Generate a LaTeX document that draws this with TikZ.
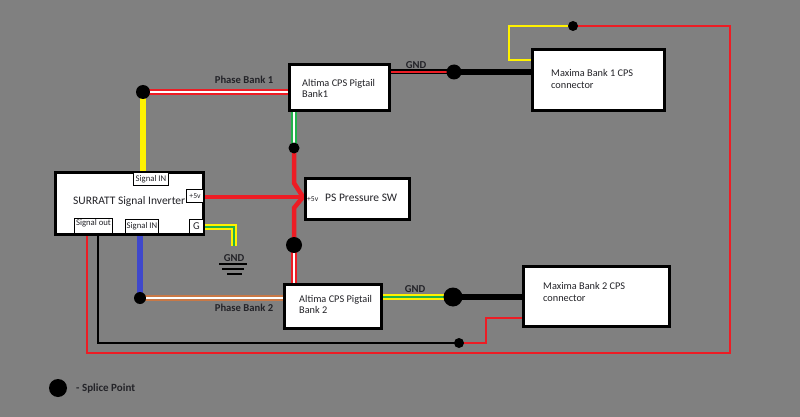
\documentclass[tikz,border=0pt]{standalone}
\usepackage{fontspec}
\setmainfont{Carlito}
\pgfdeclarelayer{canvas}
\pgfdeclarelayer{wires}
\pgfsetlayers{canvas,wires,main}
\definecolor{wred}{RGB}{237,28,36}
\definecolor{wyel}{RGB}{255,242,0}
\definecolor{wgrn}{RGB}{34,177,76}
\definecolor{wblu}{RGB}{63,72,204}
\definecolor{worg}{RGB}{200,120,70}
\definecolor{inkc}{RGB}{35,35,40}
\definecolor{canvasgray}{RGB}{128,128,128}
\tikzset{
  mainbox/.style={draw=black,fill=white,line width=3pt,inner sep=0pt},
  tagbox/.style={draw=black,fill=white,line width=0.8pt,inner sep=0pt,font=\fontsize{8.7}{9}\selectfont,text=inkc},
  boxtext/.style={anchor=west,inner sep=0pt,align=left,font=\fontsize{10.3}{11.7}\selectfont,text=inkc},
  lbl/.style={inner sep=0pt,font=\fontsize{10.6}{11}\bfseries\selectfont,text=inkc},
  splice/.style={circle,fill=black,inner sep=0pt},
  wire/.style={line cap=butt,line join=miter},
  redwhite/.style={wire,preaction={draw=wred,line width=6pt},draw=white,line width=2.4pt},
  orgwhite/.style={wire,preaction={draw=worg,line width=5.6pt},draw=white,line width=2.8pt},
  grnwhite/.style={wire,preaction={draw=wgrn,line width=6pt},draw=white,line width=2.2pt},
  yelgrn/.style={wire,preaction={draw=wyel,line width=5.8pt},draw=wgrn,line width=2.8pt},
  blkred/.style={wire,preaction={draw=black,line width=5pt},draw=wred,line width=2pt},
}
\begin{document}
\begin{tikzpicture}[x=1pt,y=-1pt]
\begin{pgfonlayer}{canvas}
\fill[canvasgray] (0,0) rectangle (800,417);
\end{pgfonlayer}
\useasboundingbox (0,0) rectangle (800,417);
% main boxes
\node[mainbox,minimum width=148pt,minimum height=62pt] (surratt) at (129.5,203.5) {};
\node[mainbox,minimum width=100pt,minimum height=46pt] (alta) at (339.5,87.5) {};
\node[mainbox,minimum width=97pt,minimum height=44pt] (altb) at (333,306.5) {};
\node[mainbox,minimum width=104pt,minimum height=41pt] (ps) at (357.5,199) {};
\node[mainbox,minimum width=132pt,minimum height=61pt] (maxa) at (598.5,80) {};
\node[mainbox,minimum width=146pt,minimum height=60pt] (maxb) at (596.5,296.5) {};
% box texts
\node[boxtext,font=\fontsize{11.5}{12}\selectfont] (tsurratt) at (73,201) {SURRATT Signal Inverter};
\node[boxtext] (talta) at (302,88.5) {Altima CPS Pigtail\\Bank1};
\node[boxtext] (taltb) at (299,304.5) {Altima CPS Pigtail\\Bank 2};
\node[boxtext,font=\fontsize{11.5}{12}\selectfont] (tps) at (325,198) {PS Pressure SW};
\node[boxtext] (tmaxa) at (551,79) {Maxima Bank 1 CPS\\connector};
\node[boxtext] (tmaxb) at (543,292) {Maxima Bank 2 CPS\\connector};
\node[inner sep=0pt,anchor=west,font=\fontsize{7.6}{8}\selectfont,text=inkc] (tfive) at (307,199.5) {+5v};
% tag boxes
\node[tagbox,minimum width=35pt,minimum height=13pt] (sigina) at (151,179) {Signal IN};
\node[tagbox,minimum width=17pt,minimum height=13pt,font=\fontsize{7.6}{8}\selectfont] (fivev) at (195,196) {+5v};
\node[tagbox,minimum width=38pt,minimum height=15pt,text depth=7pt,text height=6pt] (sigout) at (93.5,226) {Signal out};
\node[tagbox,minimum width=33pt,minimum height=14pt] (siginb) at (142,226.5) {Signal IN};
\node[tagbox,minimum width=14pt,minimum height=14pt,font=\fontsize{10.5}{11}\selectfont] (gnode) at (196.5,226.5) {G};
% splice points
\node[splice,minimum size=14pt] (dpa) at (143,92) {};
\node[splice,minimum size=12pt] (dpb) at (140,298) {};
\node[splice,minimum size=11pt] (dsa) at (294,148) {};
\node[splice,minimum size=16pt] (dsb) at (294,245) {};
\node[splice,minimum size=15pt] (dga) at (454,72) {};
\node[splice,minimum size=19pt] (dgb) at (453,297) {};
\node[splice,minimum size=10pt] (dma) at (573,26) {};
\node[splice,minimum size=10pt] (dmb) at (459,343) {};
\node[splice,minimum size=18pt] (dleg) at (58,388) {};
% labels
\node[lbl] (lpa) at (244,80) {Phase Bank 1};
\node[lbl] (lpb) at (244,308) {Phase Bank 2};
\node[lbl] (lga) at (416,65) {GND};
\node[lbl] (lgb) at (415,289) {GND};
\node[lbl] (lgnd) at (234,258) {GND};
\node[lbl,anchor=west,font=\fontsize{11}{12}\bfseries\selectfont] (lleg) at (76,389) {- Splice Point};
% free corners
\coordinate (gcorner) at (234,227);
\coordinate (gend) at (234,246);
\coordinate (kneeu) at (294,183);
\coordinate (tip) at (303,197);
\coordinate (kneel) at (294,208);
\coordinate (ra) at (87,353);
\coordinate (rb) at (730,353);
\coordinate (rc) at (730,26);
\coordinate (ya) at (509,26);
\coordinate (yb) at (509,60);
\coordinate (ka) at (98,343);
\coordinate (sa) at (486,318);
\coordinate (sb) at (486,343);
\begin{pgfonlayer}{wires}
\draw[wire,draw=wyel,line width=6pt] (dpa.center) -- (dpa.center |- surratt.north);
\draw[wire,draw=wblu,line width=5.5pt] (dpb.center) -- (dpb.center |- surratt.south);
\draw[redwhite] (dpa.center) -- (dpa.center -| alta.west);
\draw[orgwhite] (dpb.center) -- (dpb.center -| altb.west);
\draw[grnwhite] (dsa.center) -- (dsa.center |- alta.south);
\draw[redwhite] (dsb.center) -- (dsb.center |- altb.north);
\draw[wire,draw=wred,line width=4.5pt] (dsa.center) -- (kneeu) -- (tip) -- (kneel) -- (dsb.center);
\draw[wire,draw=wred,line width=4pt] (fivev.east) ++(0,1) -- (tip);
\draw[yelgrn] (gnode.east) ++(0,0.5) -- (gcorner) -- (gend);
\draw[blkred] (alta.east |- dga.center) -- (dga.center);
\draw[wire,draw=black,line width=5.5pt] (dga.center) -- (dga.center -| maxa.west);
\draw[yelgrn] (altb.east |- dgb.center) -- (dgb.center);
\draw[wire,draw=black,line width=6pt] (dgb.center) -- (dgb.center -| maxb.west);
\draw[wire,draw=wred,line width=2.4pt] (dma.center) -- (rc) -- (rb) -- (ra) -- (ra |- surratt.south);
\draw[wire,draw=wyel,line width=2.4pt] (dma.center) -- (ya) -- (yb) -- (yb -| maxa.west);
\draw[wire,draw=wred,line width=2.2pt] (sa -| maxb.west) -- (sa) -- (sb) -- (dmb.center);
\draw[wire,draw=black,line width=2pt] (dmb.center) -- (ka) -- (ka |- surratt.south);
\draw[wire,draw=black,line width=2.2pt] (219,264) -- (247,264);
\draw[wire,draw=black,line width=2pt] (222,269) -- (244,269);
\draw[wire,draw=black,line width=2pt] (227,274) -- (242,274);
\end{pgfonlayer}
\end{tikzpicture}
\end{document}
